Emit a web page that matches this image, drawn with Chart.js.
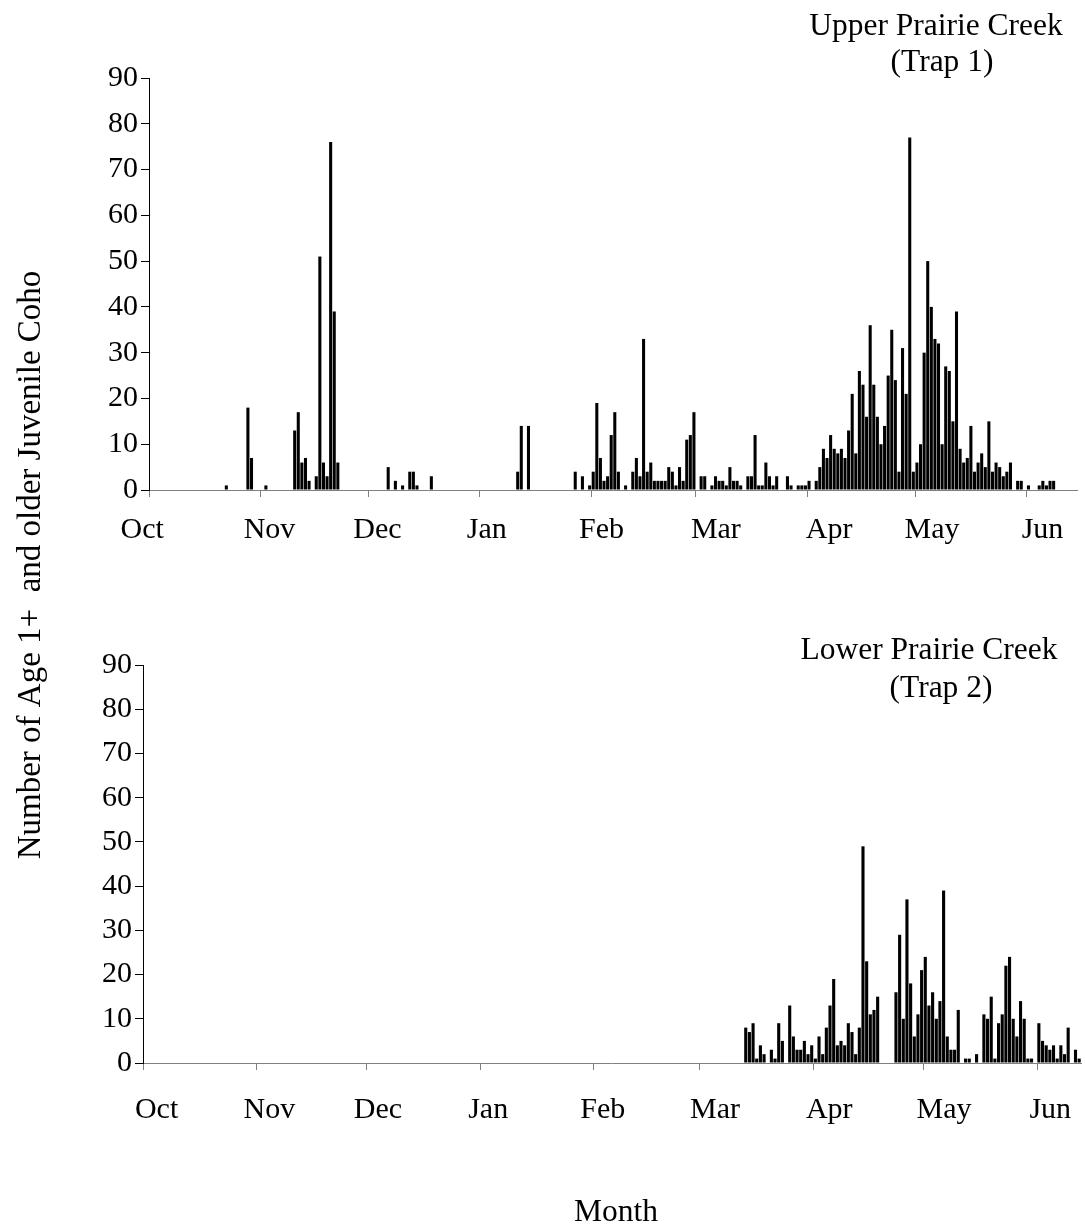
<!DOCTYPE html>
<html>
<head>
<meta charset="utf-8">
<title>Age 1+ coho catches, Prairie Creek traps</title>
<script src="https://cdn.jsdelivr.net/npm/chart.js@4.4.1/dist/chart.umd.min.js"></script>
<style>
  html, body { margin: 0; padding: 0; background: #fff; }
  body { width: 1086px; height: 1226px; position: relative; overflow: hidden; }
  canvas { position: absolute; left: 0; top: 0; }
</style>
</head>
<body>
<canvas id="upperChart" width="1086" height="1226"></canvas>
<canvas id="lowerChart" width="1086" height="1226"></canvas>
<script>
// Daily counts of age 1+ and older juvenile coho, one array per month,
// index 0 = first day of the month. Season runs Oct - Jun (leap-year Feb).
const monthNames = ["Oct", "Nov", "Dec", "Jan", "Feb", "Mar", "Apr", "May", "Jun"];
const monthStartDays = [0, 31, 61, 92, 123, 152, 183, 213, 244]; // days since 1 Oct
const yTicks = [0, 10, 20, 30, 40, 50, 60, 70, 80, 90];

// Trap 1 - Upper Prairie Creek
const upperOct = [0,0,0,0,0,0,0,0,0,0, 0,0,0,0,0,0,0,0,0,0, 0,1,0,0,0,0,0,18,7,0, 0];
const upperNov = [0,1,0,0,0,0,0,0,0,13, 17,6,7,2,0,3,51,6,3,76, 39,6,0,0,0,0,0,0,0,0];
const upperDec = [0,0,0,0,0,5,0,2,0,1, 0,4,4,1,0,0,0,3,0,0, 0,0,0,0,0,0,0,0,0,0, 0];
const upperJan = [0,0,0,0,0,0,0,0,0,0, 4,14,0,14,0,0,0,0,0,0, 0,0,0,0,0,0,4,0,3,0, 1];
const upperFeb = [4,19,7,2,3,12,17,4,0,1, 0,4,7,3,33,4,6,2,2,2, 2,5,4,1,5,2,11,12,17];
const upperMar = [0,3,3,0,1,3,2,2,1,5, 2,2,1,0,3,3,12,1,1,6, 3,1,3,0,0,3,1,0,1,1, 1];
const upperApr = [2,0,2,5,9,7,12,9,8,9, 7,13,21,8,26,23,16,36,23,16, 10,14,25,35,24,4,31,21,77,4];
const upperMay = [6,10,30,50,40,33,32,10,27,26, 15,39,9,6,7,14,4,6,8,5, 15,4,6,5,3,4,6,0,2,2, 0];
const upperJun = [1,0,0,1,2,1,2,2];

// Trap 2 - Lower Prairie Creek (not fishing before March)
const lowerMar = [0,0,0,0,0,0,0,0,0,0, 0,0,8,7,9,1,4,2,0,3, 1,9,5,0,13,6,3,3,5,2, 4];
const lowerApr = [1,6,2,8,13,19,4,5,4,9, 7,2,8,49,23,11,12,15,0,0, 0,0,16,29,10,37,18,6,11,21];
const lowerMay = [24,13,16,10,14,39,6,3,3,12, 0,1,1,0,2,0,11,10,15,1, 9,11,22,24,10,6,14,10,1,1, 0];
const lowerJun = [9,5,4,3,4,1,4,2,8,0,3,1];

const FONT = "'Liberation Serif', 'Times New Roman', serif";
Chart.defaults.font.family = FONT;
Chart.defaults.color = "#000";

// flatten month arrays into {x: day, y: count}, bar centred inside its day
function toPoints(months) {
  const pts = [];
  months.forEach((arr, m) => {
    arr.forEach((v, i) => pts.push({ x: monthStartDays[m] + i + 0.5, y: v }));
  });
  return pts;
}

// free text (panel titles, shared axis titles) drawn on the canvas
const textPlugin = {
  id: "panelText",
  afterDraw(chart, args, opts) {
    const ctx = chart.ctx;
    (opts.items || []).forEach(t => {
      ctx.save();
      ctx.font = (t.size || 31.5) + "px " + FONT;
      ctx.fillStyle = "#000";
      ctx.textAlign = "center";
      ctx.textBaseline = "alphabetic";
      ctx.translate(t.x, t.y);
      if (t.rotate) ctx.rotate(t.rotate);
      ctx.fillText(t.text, 0, 0);
      ctx.restore();
    });
  }
};

function makePanel(id, points, cfg) {
  return new Chart(document.getElementById(id), {
    type: "bar",
    data: {
      datasets: [{
        data: points,
        backgroundColor: "#000",
        borderWidth: 0,
        barPercentage: 0.85,
        categoryPercentage: 1
      }]
    },
    options: {
      responsive: false,
      animation: false,
      events: [],
      layout: { padding: cfg.padding },
      plugins: {
        legend: { display: false },
        tooltip: { enabled: false },
        panelText: { items: cfg.text }
      },
      scales: {
        // day axis: line and month tick marks only
        x: {
          type: "linear",
          min: 0,
          max: cfg.maxDay,
          offset: false,
          weight: 0,
          afterBuildTicks: s => { s.ticks = monthStartDays.map(v => ({ value: v })); },
          afterFit: s => { s.height = cfg.tickAxisHeight; },
          grid: { drawOnChartArea: false, drawTicks: true, tickLength: 7, color: "#808080", offset: false },
          border: { display: true, color: "#808080", width: 1 },
          ticks: { display: false }
        },
        // month names, set a little to the right of each tick
        months: {
          type: "linear",
          axis: "x",
          position: "bottom",
          min: 0,
          max: cfg.maxDay,
          offset: false,
          weight: 1,
          afterBuildTicks: s => {
            s.ticks = monthStartDays.map((v, i) => ({ value: v + cfg.labelShift[i] }));
          },
          afterFit: s => { s.height = cfg.xHeight - cfg.tickAxisHeight; },
          grid: { display: false },
          border: { display: false },
          ticks: {
            autoSkip: false,
            maxRotation: 0,
            padding: cfg.xPad,
            font: { size: 30 },
            callback: (v, i) => monthNames[i]
          }
        },
        y: {
          min: 0,
          max: 90,
          afterBuildTicks: s => { s.ticks = yTicks.map(v => ({ value: v })); },
          afterFit: s => { s.width = cfg.yWidth; },
          grid: { drawOnChartArea: false, drawTicks: true, tickLength: 8, color: "#000" },
          border: { display: true, color: "#000", width: 1 },
          ticks: { padding: 3, font: { size: 30 } }
        }
      }
    },
    plugins: [textPlugin]
  });
}

makePanel("upperChart",
  toPoints([upperOct, upperNov, upperDec, upperJan, upperFeb, upperMar, upperApr, upperMay, upperJun]),
  {
    padding: { top: 78, right: 9, left: 0, bottom: 666 },
    yWidth: 149, xHeight: 70, tickAxisHeight: 8, maxDay: 258, xPad: 6,
    labelShift: [-1.9, 2.5, 2.5, 1.9, 2.8, 5.6, 6.1, 4.7, 4.4],
    text: [
      { text: "Upper Prairie Creek", x: 936, y: 35 },
      { text: "(Trap 1)", x: 942, y: 71 }
    ]
  });

makePanel("lowerChart",
  toPoints([[], [], [], [], [], lowerMar, lowerApr, lowerMay, lowerJun]),
  {
    padding: { top: 665, right: 5, left: 0, bottom: 93 },
    yWidth: 143, xHeight: 70, tickAxisHeight: 18, maxDay: 256, xPad: 3,
    labelShift: [3.7, 3.5, 3.1, 2.2, 2.5, 4.1, 4.3, 5.6, 3.6],
    text: [
      { text: "Lower Prairie Creek", x: 929, y: 659 },
      { text: "(Trap 2)", x: 941, y: 697 },
      { text: "Number of Age 1+  and older Juvenile Coho", x: 40, y: 565, rotate: -Math.PI / 2, size: 33 },
      { text: "Month", x: 616, y: 1221 }
    ]
  });
</script>
</body>
</html>
